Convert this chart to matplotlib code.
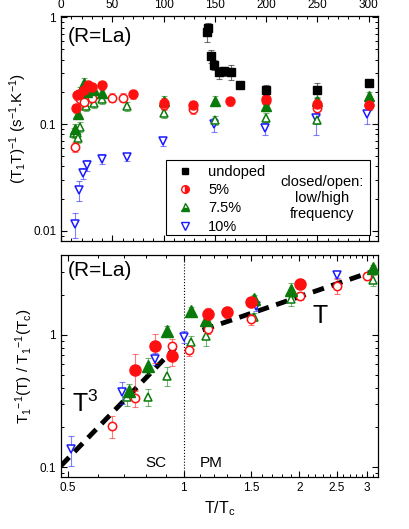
import matplotlib
matplotlib.use("Agg")
import matplotlib.pyplot as plt
import numpy as np
from matplotlib.lines import Line2D
from matplotlib.patches import Rectangle
from matplotlib.ticker import LogLocator, NullFormatter, FixedLocator, FixedFormatter, MultipleLocator

plt.rcParams['font.family'] = ['Liberation Sans', 'DejaVu Sans']
plt.rcParams['mathtext.fontset'] = 'custom'
plt.rcParams['mathtext.rm'] = 'Liberation Sans'
plt.rcParams['mathtext.it'] = 'Liberation Sans'
plt.rcParams['mathtext.bf'] = 'Liberation Sans:bold'

RED = '#ff1010'
GREEN = '#0a7a0a'
BLUE = '#1a1aff'

# ---------------- top panel data: (T1 T)^-1 vs T (K) ----------------
und_T = [142, 143, 146, 149, 154, 159, 166, 174, 200, 250, 300]
und_v = [0.73, 0.79, 0.43, 0.36, 0.305, 0.315, 0.31, 0.233, 0.21, 0.21, 0.24]
und_e = [0.14, 0.10, 0.06, 0.04, 0.04, 0.03, 0.05, 0.01, 0.02, 0.035, 0.015]

p5c_T = [14.6, 16, 18, 22, 26.5, 30, 40, 70, 100, 129, 165, 200, 250, 300]
p5c_v = [0.141, 0.187, 0.19, 0.21, 0.232, 0.22, 0.232, 0.19, 0.158, 0.15, 0.163, 0.17, 0.155, 0.15]
p5o_T = [13.3, 18.5, 22, 30, 50, 60, 100, 129, 200, 250, 300]
p5o_v = [0.061, 0.171, 0.16, 0.175, 0.177, 0.177, 0.152, 0.137, 0.163, 0.141, 0.152]

p75c_T = [14, 16.5, 19, 22, 25, 32, 40, 100, 150, 200, 250, 300]
p75c_v = [0.09, 0.124, 0.2, 0.245, 0.2, 0.21, 0.196, 0.166, 0.165, 0.147, 0.163, 0.183]
p75o_T = [13, 15.3, 16.5, 19, 24, 32, 40, 64, 100, 150, 200, 250, 300]
p75o_v = [0.083, 0.082, 0.074, 0.094, 0.148, 0.157, 0.172, 0.146, 0.126, 0.108, 0.115, 0.11, 0.16]

p10o_T = [13.6, 17.5, 21.7, 25.6, 40, 64, 99, 149, 199, 249, 298]
p10o_v = [0.0116, 0.024, 0.0346, 0.041, 0.047, 0.049, 0.069, 0.099, 0.091, 0.114, 0.124]
p10o_e = [0.003, 0.005, 0.004, 0.005, 0.005, 0.004, 0.007, 0.015, 0.012, 0.035, 0.025]

# ---------------- bottom panel data: T1^-1(T)/T1^-1(Tc) vs T/Tc ----------------
b10o_x = [0.51, 0.69, 0.844, 1.0, 1.54, 2.51]
b10o_v = [0.137, 0.373, 0.659, 0.96, 1.66, 2.81]
b10o_e = [0.035, 0.07, 0.07, 0.1, 0.15, 0.15]

b5c_x = [0.749, 0.844, 0.933, 1.154, 1.30, 1.50, 2.01]
b5c_v = [0.544, 0.816, 0.686, 1.44, 1.48, 1.77, 2.43]
b5c_e = [0.17, 0.2, 0.1, 0.15, 0.15, 0.15, 0.2]

b5o_x = [0.652, 0.749, 0.933, 1.034, 1.154, 1.50, 2.01, 2.51, 2.99]
b5o_v = [0.205, 0.336, 0.826, 0.762, 1.11, 1.31, 1.97, 2.32, 2.79]
b5o_e = [0.04, 0.05, 0.1, 0.07, 0.1, 0.12, 0.15, 0.3, 0.2]

b75c_x = [0.72, 0.808, 0.905, 1.045, 1.143, 1.526, 1.90, 3.10]
b75c_v = [0.377, 0.586, 1.07, 1.50, 1.30, 1.86, 2.19, 3.19]
b75c_e = [0.05, 0.08, 0.1, 0.12, 0.12, 0.15, 0.25, 0.2]

b75o_x = [0.713, 0.808, 0.905, 1.045, 1.143, 1.526, 1.90, 3.10]
b75o_v = [0.342, 0.342, 0.49, 0.88, 0.98, 1.36, 1.86, 2.6]
b75o_e = [0.05, 0.05, 0.08, 0.1, 0.15, 0.1, 0.2, 0.25]

t3_x = [0.48, 0.95]
t1_x = [1.12, 3.05]
t3_A = 0.93
t1_B = 0.97

W, H = 409, 529
fig = plt.figure(figsize=(W / 100, H / 100), dpi=100)

def axrect(l, t, r, b):
    return [l / W, 1 - b / H, (r - l) / W, (b - t) / H]

ax1 = fig.add_axes(axrect(61, 16, 378, 241))
ax2 = fig.add_axes(axrect(61, 255, 378, 477))

def eb(ax, x, y, e, color, marker, ms, open_=False, rel=None):
    if e is None:
        e = [v * rel for v in y]
    ax.errorbar(x, y, yerr=e, fmt='none', ecolor=color, alpha=0.55,
                capsize=2, elinewidth=0.8, capthick=0.8, zorder=2)
    if open_:
        ax.plot(x, y, linestyle='none', marker=marker, ms=ms, mfc='white',
                mec=color, mew=1.1, zorder=3)
    else:
        ax.plot(x, y, linestyle='none', marker=marker, ms=ms, mfc=color,
                mec=color, mew=1.0, zorder=4)

# top panel
eb(ax1, p10o_T, p10o_v, p10o_e, BLUE, 'v', 6, open_=True)
eb(ax1, p75o_T, p75o_v, None, GREEN, '^', 6, open_=True, rel=0.1)
eb(ax1, p5o_T, p5o_v, None, RED, 'o', 6, open_=True, rel=0.1)
eb(ax1, p75c_T, p75c_v, None, GREEN, '^', 6.5, rel=0.1)
eb(ax1, p5c_T, p5c_v, None, RED, 'o', 6.5, rel=0.1)
eb(ax1, und_T, und_v, und_e, 'black', 's', 5.5)

ax1.set_yscale('log')
ax1.set_xlim(0, 309)
ax1.set_ylim(0.008, 1.03)
ax1.xaxis.set_major_locator(MultipleLocator(50))
ax1.xaxis.set_minor_locator(MultipleLocator(10))
ax1.tick_params(axis='x', which='both', top=True, bottom=True, labeltop=True,
                labelbottom=False, direction='in')
ax1.tick_params(axis='y', which='both', left=True, right=True, direction='in')
ax1.yaxis.set_major_locator(FixedLocator([0.01, 0.1, 1]))
ax1.yaxis.set_major_formatter(FixedFormatter(['0.01', '0.1', '1']))
ax1.yaxis.set_minor_locator(LogLocator(base=10, subs=np.arange(2, 10)))
ax1.yaxis.set_minor_formatter(NullFormatter())
ax1.set_ylabel(r'(T$_1$T)$^{-1}$ (s$^{-1}$.K$^{-1}$)', fontsize=11, labelpad=3)
ax1.text(0.02, 0.91, '(R=La)', transform=ax1.transAxes, fontsize=15,
         ha='left', va='center')

# legend
ax1.add_patch(Rectangle((0.330, 0.027), 0.645, 0.333, transform=ax1.transAxes,
                        fill=True, facecolor='white', edgecolor='black', lw=0.8, zorder=5))
handles = [
    Line2D([], [], ls='none', marker='s', ms=5, mfc='black', mec='black'),
    Line2D([], [], ls='none', marker='o', ms=5.5, mfc=RED, mec=RED, fillstyle='right',
           markerfacecoloralt='white', mew=1.0),
    Line2D([], [], ls='none', marker='^', ms=6, mfc=GREEN, mec=GREEN, fillstyle='bottom',
           markerfacecoloralt='white', mew=1.0),
    Line2D([], [], ls='none', marker='v', ms=6, mfc='white', mec=BLUE, mew=1.0),
]
leg = ax1.legend(handles, ['undoped', '5%', '7.5%', '10%'], loc='upper left',
                 bbox_to_anchor=(0.335, 0.378), frameon=False, fontsize=10.5,
                 handlelength=1.2, handletextpad=1.0, labelspacing=0.3,
                 borderaxespad=0.2)
leg.set_zorder(6)
ax1.text(0.823, 0.19, 'closed/open:\nlow/high\nfrequency', transform=ax1.transAxes,
         ha='center', va='center', fontsize=10.5, linespacing=1.2, zorder=7)

# bottom panel
ax2.axvline(1.0, color='black', ls=':', lw=0.8, zorder=1)
xx3 = np.linspace(t3_x[0], t3_x[1], 50)
ax2.plot(xx3, t3_A * xx3 ** 3, color='black', lw=3.5, ls=(0, (2.4, 1.6)), zorder=2)
xx1 = np.linspace(t1_x[0], t1_x[1], 50)
ax2.plot(xx1, t1_B * xx1, color='black', lw=3.5, ls=(0, (2.4, 1.6)), zorder=2)

eb(ax2, b10o_x, b10o_v, b10o_e, BLUE, 'v', 6, open_=True)
eb(ax2, b75o_x, b75o_v, b75o_e, GREEN, '^', 6, open_=True)
eb(ax2, b5o_x, b5o_v, b5o_e, RED, 'o', 6, open_=True)
eb(ax2, b75c_x, b75c_v, b75c_e, GREEN, '^', 8)
eb(ax2, b5c_x, b5c_v, b5c_e, RED, 'o', 8)

ax2.set_xscale('log')
ax2.set_yscale('log')
ax2.set_xlim(0.48, 3.2)
ax2.set_ylim(0.0845, 4.0)
xt = [0.5, 1, 1.5, 2, 2.5, 3]
ax2.xaxis.set_major_locator(FixedLocator(xt))
ax2.xaxis.set_major_formatter(FixedFormatter(['0.5', '1', '1.5', '2', '2.5', '3']))
minor_x = [v / 10 for v in range(5, 33) if v / 10 not in xt]
ax2.xaxis.set_minor_locator(FixedLocator(minor_x))
ax2.xaxis.set_minor_formatter(NullFormatter())
ax2.yaxis.set_major_locator(FixedLocator([0.1, 1]))
ax2.yaxis.set_major_formatter(FixedFormatter(['0.1', '1']))
ax2.yaxis.set_minor_locator(LogLocator(base=10, subs=np.arange(2, 10)))
ax2.yaxis.set_minor_formatter(NullFormatter())
ax2.tick_params(axis='both', which='both', top=True, right=True, direction='in')
ax2.set_xlabel(r'T/T$_c$', fontsize=11.5, labelpad=4)
ax2.set_ylabel(r'T$_1$$^{-1}$(T) / T$_1$$^{-1}$(T$_c$)', fontsize=11, labelpad=3)
ax2.text(0.02, 0.93, '(R=La)', transform=ax2.transAxes, fontsize=15,
         ha='left', va='center')
ax2.text(0.849, 0.108, 'SC', fontsize=11, ha='center', va='center')
ax2.text(1.178, 0.108, 'PM', fontsize=11, ha='center', va='center')
ax2.text(0.555, 0.30, r'T$^3$', fontsize=18, ha='center', va='center')
ax2.text(2.27, 1.38, 'T', fontsize=18, ha='center', va='center')

for ax in (ax1, ax2):
    ax.tick_params(which='major', length=4, width=0.8, labelsize=8.5)
    ax.tick_params(which='minor', length=2.2, width=0.7)
    for s in ax.spines.values():
        s.set_linewidth(0.9)

fig.savefig('out.png', dpi=100)
